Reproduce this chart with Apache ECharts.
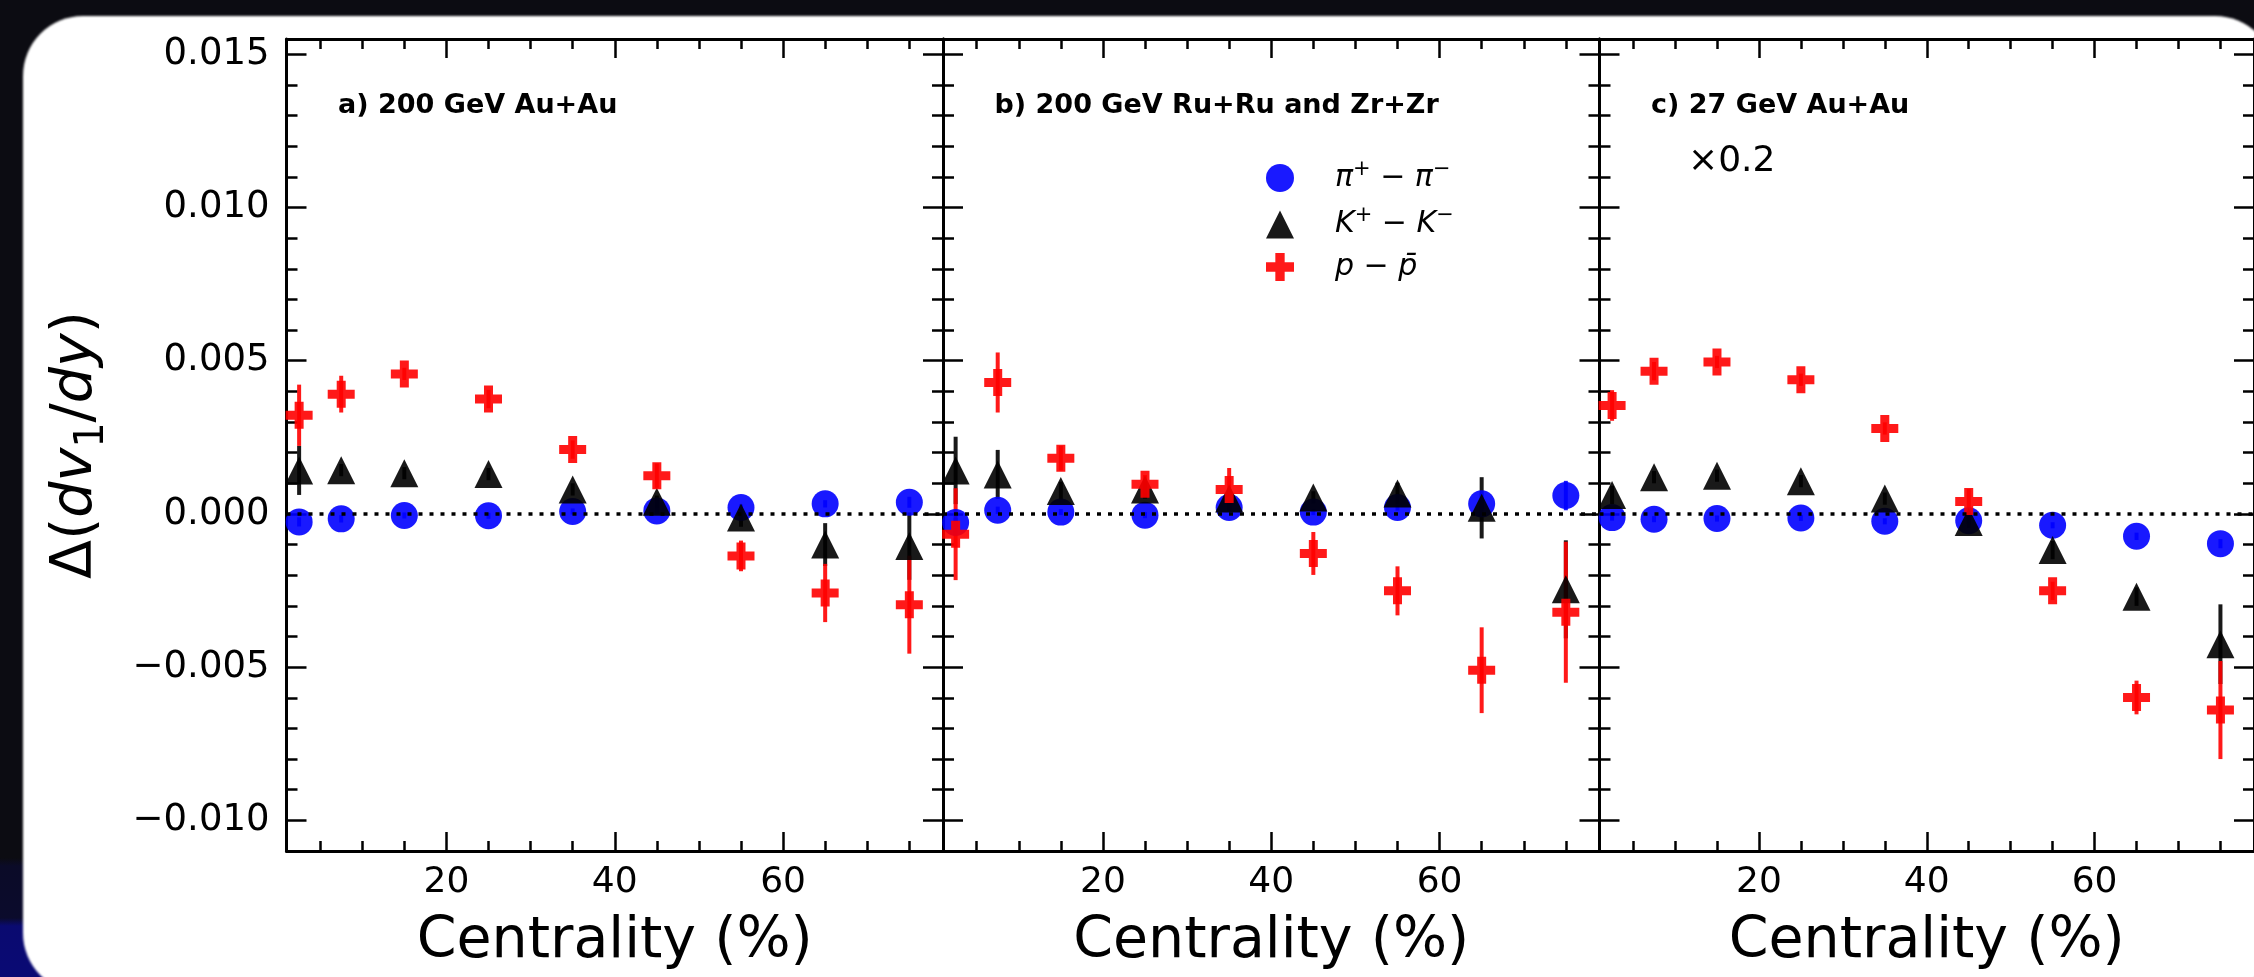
<!DOCTYPE html>
<html>
<head>
<meta charset="utf-8">
<script src="https://cdn.jsdelivr.net/npm/echarts@6/dist/echarts.min.js"></script>
<style>
  html, body {
    margin: 0; padding: 0; width: 2254px; height: 977px; overflow: hidden;
    background: linear-gradient(to bottom, #0c0c12 0px, #0c0c12 858px, #0b0b28 866px,
                #0b0b2c 918px, #0a0a70 926px, #0a0a74 977px);
  }
  #card {
    position: absolute; left: 23px; top: 16px; width: 2252px; height: 977px;
    border-radius: 60px; background: #ffffff; filter: blur(1.2px);
  }
  #chart { position: absolute; left: 0; top: 0; width: 2254px; height: 977px; }
</style>
</head>
<body>
<div id="card"></div>
<div id="chart"></div>
<script>
// Centrality bin centres (%)
const centrality = [2.5, 7.5, 15, 25, 35, 45, 55, 65, 75];

const panelTitles = ['a) 200 GeV Au+Au', 'b) 200 GeV Ru+Ru and Zr+Zr', 'c) 27 GeV Au+Au'];
const speciesNames = ['π⁺ − π⁻', 'K⁺ − K⁻', 'p − p̄'];

// Axis ticks
const xMajorTicks = [20, 40, 60];
const xMinorTicks = [5, 10, 15, 25, 30, 35, 45, 50, 55, 65, 70, 75];
const yMajorTicks = [-0.010, -0.005, 0.000, 0.005, 0.010, 0.015];
const yMinorTicks = [-0.009, -0.008, -0.007, -0.006, -0.004, -0.003, -0.002, -0.001,
                     0.001, 0.002, 0.003, 0.004, 0.006, 0.007, 0.008, 0.009,
                     0.011, 0.012, 0.013, 0.014];

// a) 200 GeV Au+Au
const pionAuAu200    = [-0.00026, -0.00016, -0.00005, -0.00006, 0.00008, 0.00010, 0.00021, 0.00033, 0.00038];
const pionAuAu200Err = [0.00015, 0.00012, 0.00010, 0.00010, 0.00010, 0.00010, 0.00010, 0.00012, 0.00018];
const kaonAuAu200    = [0.00142, 0.00143, 0.00133, 0.00130, 0.00080, 0.00040, -0.00012, -0.00100, -0.00105];
const kaonAuAu200Err = [0.00080, 0.00020, 0.00020, 0.00020, 0.00020, 0.00020, 0.00030, 0.00070, 0.00110];
const protAuAu200    = [0.00322, 0.00391, 0.00457, 0.00375, 0.00210, 0.00125, -0.00137, -0.00258, -0.00296];
const protAuAu200Err = [0.00100, 0.00060, 0.00020, 0.00030, 0.00030, 0.00040, 0.00050, 0.00095, 0.00160];

// b) 200 GeV Ru+Ru and Zr+Zr
const pionIso200    = [-0.00028, 0.00012, 0.00006, -0.00004, 0.00021, 0.00006, 0.00021, 0.00033, 0.00060];
const pionIso200Err = [0.00015, 0.00012, 0.00010, 0.00010, 0.00010, 0.00010, 0.00010, 0.00015, 0.00048];
const kaonIso200    = [0.00142, 0.00129, 0.00075, 0.00080, 0.00050, 0.00054, 0.00067, 0.00020, -0.00246];
const kaonIso200Err = [0.00110, 0.00080, 0.00030, 0.00030, 0.00030, 0.00020, 0.00035, 0.00100, 0.00160];
const protIso200    = [-0.00066, 0.00429, 0.00182, 0.00097, 0.00080, -0.00129, -0.00251, -0.00510, -0.00321];
const protIso200Err = [0.00150, 0.00098, 0.00040, 0.00030, 0.00070, 0.00070, 0.00080, 0.00140, 0.00230];

// c) 27 GeV Au+Au (scaled by 0.2)
const pionAuAu27    = [-0.00012, -0.00017, -0.00015, -0.00013, -0.00024, -0.00022, -0.00037, -0.00073, -0.00097];
const pionAuAu27Err = [0.00010, 0.00010, 0.00010, 0.00010, 0.00010, 0.00010, 0.00010, 0.00012, 0.00015];
const kaonAuAu27    = [0.00062, 0.00120, 0.00125, 0.00107, 0.00050, -0.00026, -0.00118, -0.00270, -0.00425];
const kaonAuAu27Err = [0.00030, 0.00020, 0.00020, 0.00020, 0.00020, 0.00020, 0.00030, 0.00030, 0.00130];
const protAuAu27    = [0.00354, 0.00466, 0.00496, 0.00438, 0.00279, 0.00041, -0.00251, -0.00599, -0.00640];
const protAuAu27Err = [0.00050, 0.00030, 0.00020, 0.00020, 0.00020, 0.00040, 0.00030, 0.00055, 0.00160];

const panels = [
  { pion: [pionAuAu200, pionAuAu200Err], kaon: [kaonAuAu200, kaonAuAu200Err], prot: [protAuAu200, protAuAu200Err] },
  { pion: [pionIso200, pionIso200Err],   kaon: [kaonIso200, kaonIso200Err],   prot: [protIso200, protIso200Err] },
  { pion: [pionAuAu27, pionAuAu27Err],   kaon: [kaonAuAu27, kaonAuAu27Err],   prot: [protAuAu27, protAuAu27Err] }
];

// ---- layout / style ----
const FONT = 'DejaVu Sans';
const gridLeft = [286.5, 943, 1599.5];
const gridTop = 39, gridW = 656.5, gridH = 812;
const X_MIN = 1, X_MAX = 79, Y_MIN = -0.011, Y_MAX = 0.0155;
const PLUS = 'path://M1,0H2V1H3V2H2V3H1V2H0V1H1Z';
const species = [
  { key: 'pion', color: '#0000ff', symbol: 'circle',   size: 27 },
  { key: 'kaon', color: '#000000', symbol: 'triangle', size: 28 },
  { key: 'prot', color: '#ff0000', symbol: PLUS,       size: 27 }
];

const fmtY = v => (v < 0 ? '\u2212' + (-v).toFixed(3) : Math.abs(v).toFixed(3));

const grids = [], xAxes = [], yAxes = [], series = [];

function xAxisDef(g, position, ticks, len, withLine, withLabel, withName) {
  return {
    type: 'value', gridIndex: g, position, min: X_MIN, max: X_MAX,
    axisLine: { show: withLine, onZero: false, lineStyle: { color: '#000', width: 3 } },
    axisTick: { show: true, inside: true, length: len, customValues: ticks,
                lineStyle: { color: '#000', width: 2.5 } },
    axisLabel: { show: withLabel, customValues: ticks, margin: 14,
                 fontFamily: FONT, fontSize: 36, color: '#000' },
    splitLine: { show: false },
    name: withName ? 'Centrality (%)' : '',
    nameLocation: 'middle', nameGap: 63,
    nameTextStyle: { fontFamily: FONT, fontSize: 57, color: '#000' }
  };
}

function yAxisDef(g, position, ticks, len, withLine, withLabel, withName) {
  const ax = {
    type: 'value', gridIndex: g, position, min: Y_MIN, max: Y_MAX,
    axisLine: { show: withLine, onZero: false, lineStyle: { color: '#000', width: 3 } },
    axisTick: { show: true, inside: true, length: len, customValues: ticks,
                lineStyle: { color: '#000', width: 2.5 } },
    axisLabel: { show: withLabel, customValues: ticks, margin: 17, formatter: fmtY,
                 fontFamily: FONT, fontSize: 37, color: '#000' },
    splitLine: { show: false }
  };
  if (withName) {
    ax.name = '{n|Δ(}{i|dv}{sub|1}{n|/}{i|dy}{n|)}';
    ax.nameLocation = 'middle';
    ax.nameRotate = 90;
    ax.nameGap = 174;
    ax.nameTextStyle = {
      rich: {
        n:   { fontFamily: FONT, fontSize: 57, color: '#000', lineHeight: 72 },
        i:   { fontFamily: FONT, fontStyle: 'italic', fontSize: 57, color: '#000', lineHeight: 72 },
        sub: { fontFamily: FONT, fontSize: 40, color: '#000', lineHeight: 40, padding: [32, 0, 0, 0] }
      }
    };
  }
  return ax;
}

panels.forEach((panel, g) => {
  grids.push({ left: gridLeft[g], top: gridTop, width: gridW, height: gridH });

  xAxes.push(xAxisDef(g, 'bottom', xMajorTicks, 19, true, true, true));
  xAxes.push(xAxisDef(g, 'bottom', xMinorTicks, 10, false, false, false));
  xAxes.push(xAxisDef(g, 'top', xMajorTicks, 19, true, false, false));
  xAxes.push(xAxisDef(g, 'top', xMinorTicks, 10, false, false, false));

  yAxes.push(yAxisDef(g, 'left', yMajorTicks, 20, true, g === 0, g === 0));
  yAxes.push(yAxisDef(g, 'left', yMinorTicks, 11, false, false, false));
  yAxes.push(yAxisDef(g, 'right', yMajorTicks, 20, true, false, false));
  yAxes.push(yAxisDef(g, 'right', yMinorTicks, 11, false, false, false));

  const xi = g * 4, yi = g * 4;

  species.forEach((sp, s) => {
    const [vals, errs] = panel[sp.key];
    // vertical error bars
    series.push({
      type: 'custom', name: speciesNames[s], xAxisIndex: xi, yAxisIndex: yi,
      silent: true, animation: false,
      data: centrality.map((x, k) => [x, vals[k], errs[k]]),
      encode: { x: 0, y: 1 },
      renderItem: (params, api) => {
        const x = api.value(0), y = api.value(1), e = api.value(2);
        const lo = api.coord([x, y - e]);
        const hi = api.coord([x, y + e]);
        return {
          type: 'line',
          shape: { x1: lo[0], y1: lo[1], x2: hi[0], y2: hi[1] },
          style: { stroke: sp.color, lineWidth: 4, opacity: 0.9 }
        };
      }
    });
    // markers
    const pts = {
      type: 'scatter', name: speciesNames[s], xAxisIndex: xi, yAxisIndex: yi,
      silent: true, animation: false,
      symbol: sp.symbol, symbolSize: sp.size,
      itemStyle: { color: sp.color, opacity: 0.9 },
      data: centrality.map((x, k) => [x, vals[k]])
    };
    if (s === species.length - 1) {
      // dotted zero reference line
      pts.markLine = {
        silent: true, animation: false, symbol: ['none', 'none'],
        label: { show: false },
        lineStyle: { color: '#000', width: 3.5, type: [4, 7], opacity: 1 },
        emphasis: { disabled: true },
        data: [{ yAxis: 0 }]
      };
    }
    series.push(pts);
  });
});

const titles = panelTitles.map((t, g) => ({
  text: t, left: gridLeft[g] + 51.5, top: 92, padding: 0,
  textStyle: { fontFamily: FONT, fontWeight: 'bold', fontSize: 27, color: '#000' }
}));
titles.push({
  text: '×0.2', left: 1688, top: 144, padding: 0,
  textStyle: { fontFamily: FONT, fontWeight: 'normal', fontSize: 36, color: '#000' }
});

const legendRich = {
  sp:  { width: 36, fontSize: 30, lineHeight: 38 },
  it:  { fontFamily: FONT, fontStyle: 'italic', fontSize: 30, color: '#000', lineHeight: 38 },
  n:   { fontFamily: FONT, fontSize: 30, color: '#000', lineHeight: 38 },
  sup: { fontFamily: FONT, fontSize: 21, color: '#000', lineHeight: 21, padding: [0, 0, 17, 0] }
};
const legendLabels = {
  [speciesNames[0]]: '{sp| }{it|π}{sup|+}{n| − }{it|π}{sup|−}',
  [speciesNames[1]]: '{sp| }{it|K}{sup|+}{n| − }{it|K}{sup|−}',
  [speciesNames[2]]: '{sp| }{it|p}{n| − }{it|p̄}'
};

const option = {
  backgroundColor: 'transparent',
  animation: false,
  title: titles,
  legend: {
    orient: 'vertical', left: 1266, top: 159, padding: 0,
    itemWidth: 28, itemHeight: 28, itemGap: 8.5, selectedMode: false,
    data: [
      { name: speciesNames[0], icon: 'circle',   itemStyle: { color: '#0000ff', opacity: 0.9 } },
      { name: speciesNames[1], icon: 'triangle', itemStyle: { color: '#000000', opacity: 0.9 } },
      { name: speciesNames[2], icon: PLUS,       itemStyle: { color: '#ff0000', opacity: 0.9 } }
    ],
    formatter: name => legendLabels[name],
    textStyle: { rich: legendRich }
  },
  grid: grids,
  xAxis: xAxes,
  yAxis: yAxes,
  series: series
};

const chart = echarts.init(document.getElementById('chart'), null, { renderer: 'canvas' });
chart.setOption(option);
</script>
</body>
</html>
